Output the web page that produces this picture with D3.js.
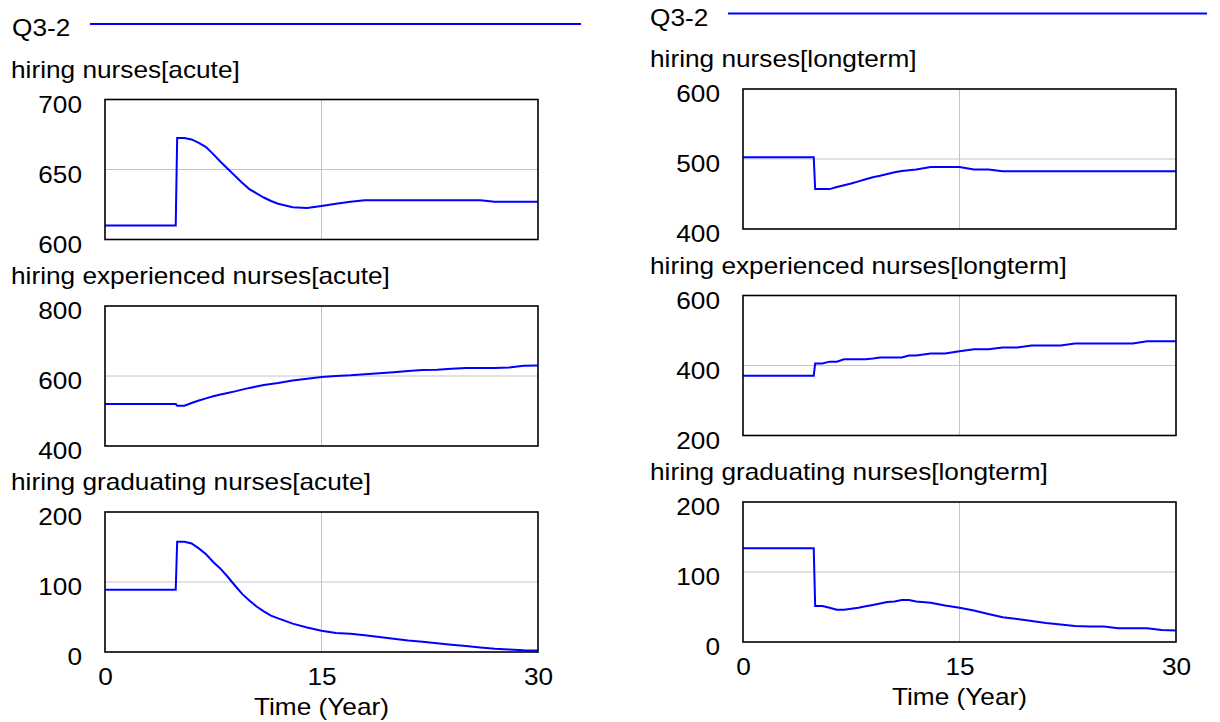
<!DOCTYPE html>
<html>
<head>
<meta charset="utf-8">
<script src="https://cdn.jsdelivr.net/npm/d3@7"></script>
<style>
  body { margin: 0; background: #fff; }
  svg text { font-family: "Liberation Sans", Arial, sans-serif; font-size: 23px; fill: #000; }
</style>
</head>
<body>
<div id="chart"></div>
<script>
// time axis (years)
const time = [0, 4.9, 5, 5.5, 6, 6.5, 7, 7.5, 8, 8.5, 9, 9.5, 10, 10.5, 11, 11.5, 12,
  13, 14, 15, 16, 17, 18, 19, 20, 21, 22, 23, 24, 25, 26, 27, 28, 29, 30];

const hiringAcute = [610, 610, 672.5, 672.5, 671.5, 669, 666, 661, 655.5, 650.5, 645.5, 640.5, 636, 633, 630, 627.5, 625.5,
  623, 622.5, 624, 625.5, 627, 628, 628, 628, 628, 628, 628, 628, 628, 628, 627, 627, 627, 627];
const experiencedAcute = [520, 520, 515, 515, 523, 530, 536, 542, 547, 551.5, 556, 561, 566, 570, 574, 577, 580,
  587, 592, 597, 600, 602, 605, 608, 611, 614, 617, 618, 621, 623, 623, 623, 624, 629, 630];
const graduatingAcute = [89, 89, 157.5, 157.5, 155, 148, 139.5, 128.5, 119, 107.5, 95, 83, 73.5, 65, 58, 52, 48,
  40.5, 35, 30.5, 27, 26, 24, 21.5, 19, 16.5, 14.5, 12.5, 10.5, 8.5, 6.5, 4.5, 3.5, 2.5, 2];
const hiringLongterm = [502.5, 502.5, 457, 457, 457, 460, 462.5, 465, 468, 471, 474, 476, 478.5, 481, 483, 484, 485,
  488.5, 488.5, 488.5, 485, 485, 482.5, 482.5, 482.5, 482.5, 482.5, 482.5, 482.5, 482.5, 482.5, 482.5, 482.5, 482.5, 482.5];
const experiencedLongterm = [371, 371, 406, 406, 411, 411, 418, 418, 418, 418, 420, 423, 423, 423, 423, 428.5, 428.5,
  434, 434, 441, 446.5, 446.5, 451.5, 451.5, 457, 457, 457, 463, 463, 463, 463, 463, 469.5, 469.5, 469.5];
const graduatingLongterm = [134, 134, 51.5, 51.5, 49, 46, 46, 47.5, 49, 51, 53, 55, 57, 58, 60, 60, 58,
  56, 52, 49, 45, 40, 35.5, 33, 30, 27, 25, 23, 22, 22, 19.5, 19.5, 19.5, 17, 16.5];

const titles = [
  "hiring nurses[acute]", "hiring experienced nurses[acute]", "hiring graduating nurses[acute]",
  "hiring nurses[longterm]", "hiring experienced nurses[longterm]", "hiring graduating nurses[longterm]"
];
const seriesList = [hiringAcute, experiencedAcute, graduatingAcute, hiringLongterm, experiencedLongterm, graduatingLongterm];
const yTickValues = [[600, 650, 700], [400, 600, 800], [0, 100, 200], [400, 500, 600], [200, 400, 600], [0, 100, 200]];
const xTickValues = [0, 15, 30];
const legendName = "Q3-2";

const W = 1220, H = 722;
const stretch = 1.14;      // text in the picture is a bit wider than plain Arial
const boxH = 140;
const fontStyle = '"Liberation Sans", Arial, sans-serif';

const svg = d3.select("#chart").append("svg")
  .attr("width", W).attr("height", H);

// two columns: left = acute, right = longterm
const columns = [
  {left: 105, right: 538, tops: [99.5, 306, 512], legendY: 24, legendTextX: 12, lineFrom: 90, lineTo: 581, titleX: 11},
  {left: 743, right: 1176, tops: [89, 295.5, 502], legendY: 13.5, legendTextX: 650, lineFrom: 728, lineTo: 1207, titleX: 650}
];

function stretchedText(parent, x, y, str, anchor) {
  parent.append("g")
    .attr("transform", `translate(${x},${y}) scale(${stretch},1)`)
    .append("text")
    .attr("text-anchor", anchor || "start")
    .text(str);
}

columns.forEach((col, c) => {
  // legend
  stretchedText(svg, col.legendTextX, col.legendY + 12, legendName);
  svg.append("line")
    .attr("x1", col.lineFrom).attr("x2", col.lineTo)
    .attr("y1", col.legendY).attr("y2", col.legendY)
    .attr("stroke", "#0000ff").attr("stroke-width", 2);

  const x = d3.scaleLinear().domain([0, 30]).range([col.left, col.right]);

  col.tops.forEach((top, r) => {
    const idx = c * 3 + r;
    const ticks = yTickValues[idx];
    const y = d3.scaleLinear().domain([ticks[0], ticks[2]]).range([top + boxH, top]);

    stretchedText(svg, col.titleX, top - 22, titles[idx]);

    // grid
    svg.append("line")
      .attr("x1", x(15)).attr("x2", x(15))
      .attr("y1", y(ticks[0])).attr("y2", y(ticks[2]))
      .attr("stroke", "#c4c4c4").attr("stroke-width", 1);
    svg.append("line")
      .attr("x1", x(0)).attr("x2", x(30))
      .attr("y1", y(ticks[1])).attr("y2", y(ticks[1]))
      .attr("stroke", "#c4c4c4").attr("stroke-width", 1);

    // y axis labels
    const ya = svg.append("g")
      .attr("transform", `translate(${col.left},0)`)
      .call(d3.axisLeft(y).tickValues(ticks).tickSize(0).tickPadding(23 / stretch).tickFormat(d3.format("d")));
    ya.select(".domain").remove();
    ya.selectAll("text")
      .attr("dy", 12.5)
      .attr("transform", `scale(${stretch},1)`)
      .style("font-size", "23px")
      .style("font-family", fontStyle)
      .attr("fill", "#000");

    // data line
    const line = d3.line()
      .x((d, i) => x(time[i]))
      .y(d => y(d));
    svg.append("path")
      .datum(seriesList[idx])
      .attr("d", line)
      .attr("fill", "none")
      .attr("stroke", "#0000ff")
      .attr("stroke-width", 2);

    // frame
    svg.append("rect")
      .attr("x", col.left).attr("y", top)
      .attr("width", col.right - col.left).attr("height", boxH)
      .attr("fill", "none")
      .attr("stroke", "#000")
      .attr("stroke-width", 1.6);

    if (r === 2) {
      const xa = svg.append("g")
        .attr("transform", `translate(0,${top + boxH})`)
        .call(d3.axisBottom(x).tickValues(xTickValues).tickSize(0).tickFormat(d3.format("d")));
      xa.select(".domain").remove();
      xa.selectAll("text")
        .attr("y", 0)
        .attr("dy", 0)
        .attr("transform", `translate(0,33) scale(${stretch},1)`)
        .style("font-size", "23px")
        .style("font-family", fontStyle)
        .attr("fill", "#000");
      stretchedText(svg, (col.left + col.right) / 2, top + boxH + 63, "Time (Year)", "middle");
    }
  });
});
</script>
</body>
</html>
